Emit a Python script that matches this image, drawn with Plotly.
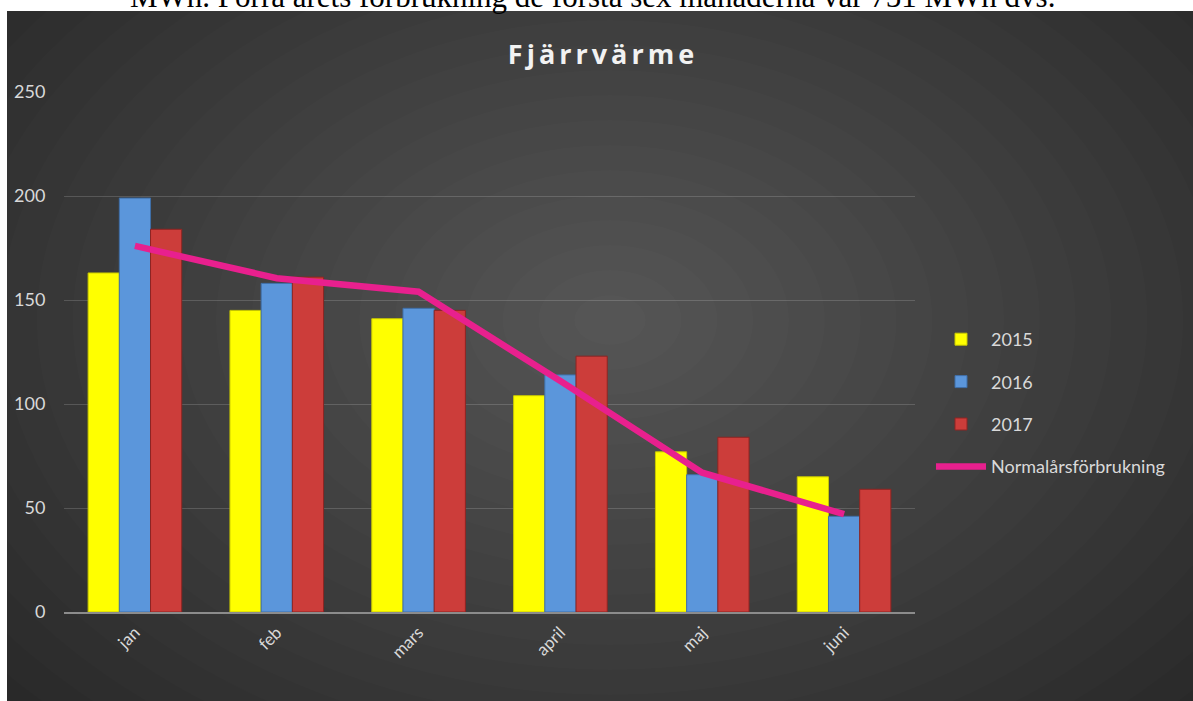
import plotly.graph_objects as go

months = ["jan", "feb", "mars", "april", "maj", "juni"]
v2015 = [163, 145, 141, 104, 77, 65]
v2016 = [199, 158, 146, 114, 66, 46]
v2017 = [184, 161, 145, 123, 84, 59]
normal = [176, 160.5, 154, 111, 67, 47]
y_ticks = [0, 50, 100, 150, 200, 250]

W, H = 1193, 701
ML, MR, MT, MB = 64, 278, 92, 89
PW = W - ML - MR
PH = H - MT - MB


def px_x(px):
    return (px - ML) / PW


def px_y(py):
    return (H - MB - py) / PH


fig = go.Figure()
fig.add_trace(go.Bar(name="2015", x=months, y=v2015,
                     marker=dict(color="#ffff00", line=dict(color="#c8c800", width=1))))
fig.add_trace(go.Bar(name="2016", x=months, y=v2016,
                     marker=dict(color="#5b96db", line=dict(color="#3f6fa8", width=1))))
fig.add_trace(go.Bar(name="2017", x=months, y=v2017,
                     marker=dict(color="#cc3d3a", line=dict(color="#8e2422", width=1))))
fig.add_trace(go.Scatter(name="Normalårsförbrukning", x=months, y=normal, mode="lines",
                         line=dict(color="#e8208e", width=6.5)))

shapes = []
# dark chart background
shapes.append(dict(type="rect", xref="paper", yref="paper", layer="below",
                   x0=px_x(7), x1=px_x(W + 5), y0=px_y(H + 5), y1=px_y(11),
                   fillcolor="#252525", line=dict(width=0)))
# radial gradient approximation
N = 24
cx, cy = 610, 320
RX, RY = 860, 600
for i in range(N):
    f = 1 - i / N
    rx, ry = RX * f, RY * f
    shapes.append(dict(type="circle", xref="paper", yref="paper", layer="below",
                       x0=px_x(cx - rx), x1=px_x(cx + rx),
                       y0=px_y(cy + ry), y1=px_y(cy - ry),
                       fillcolor="white", opacity=0.0135, line=dict(width=0)))

fig.update_layout(
    width=W, height=H,
    margin=dict(l=ML, r=MR, t=MT, b=MB),
    paper_bgcolor="white",
    plot_bgcolor="rgba(0,0,0,0)",
    barmode="group",
    bargap=0.34,
    bargroupgap=0,
    shapes=shapes,
    font=dict(family="Lato, Open Sans, sans-serif", color="#d9d9d9"),
    title=dict(text='<span style="letter-spacing:4px">Fjärrvärme</span>',
               x=603 / W, xanchor="center", y=1 - 55 / H, yanchor="middle",
               font=dict(family="Open Sans, Lato, sans-serif", size=27, color="#f2f2f2",
                         weight="bold")),
    legend=dict(x=px_x(931), y=px_y(403), xanchor="left", yanchor="middle",
                bgcolor="rgba(0,0,0,0)", font=dict(size=18, color="#d9d9d9"),
                tracegroupgap=16, itemwidth=50, traceorder="grouped"),
    xaxis=dict(showgrid=False, tickangle=-45, tickfont=dict(size=17, color="#d9d9d9"),
               showline=True, linecolor="#8c8c8c", linewidth=2,
               ticks="outside", ticklen=2, tickcolor="rgba(0,0,0,0)"),
    yaxis=dict(range=[0, 250], tickvals=y_ticks, showgrid=True,
               gridcolor="rgba(255,255,255,0.16)", gridwidth=1,
               zeroline=False, showline=False,
               tickfont=dict(size=18, color="#d9d9d9"),
               ticks="outside", ticklen=14, tickcolor="rgba(0,0,0,0)"),
    annotations=[dict(text="MWh. Förra årets förbrukning de första sex månaderna var 751 MWh dvs.",
                      xref="paper", yref="paper", x=px_x(592), y=px_y(-3),
                      xanchor="center", yanchor="middle", showarrow=False,
                      font=dict(family="Liberation Serif, Times New Roman, serif",
                                size=31, color="black"))],
)
for i, tr in enumerate(fig.data):
    tr.legendgroup = f"g{i}"

fig.write_html("out.html", config={"displayModeBar": False},
               post_script="document.body.style.margin='0';")
